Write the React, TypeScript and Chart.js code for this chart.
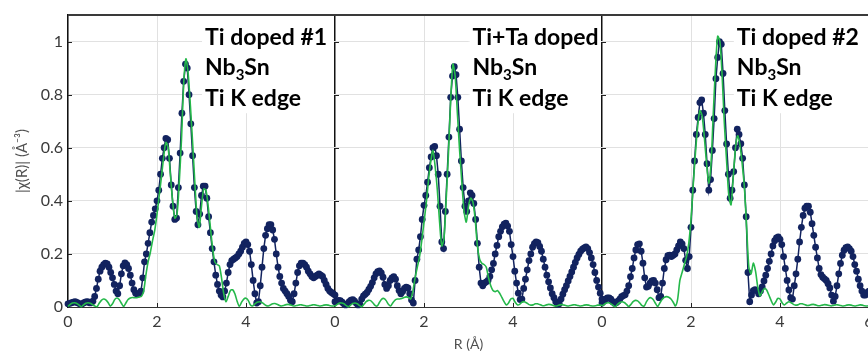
import React, { useEffect, useRef } from 'react';
import { Chart, registerables } from 'chart.js';

Chart.register(...registerables);

// ---- axes / layout values ----
const R_MAX = 6; // each panel spans R = 0..6 Å
const DATA_STEP = 0.04;
const FIT_STEP = 0.05;
const X_TICK_STEP = 2;
const Y_MAX = 1.1;
const Y_TICK_STEP = 0.2;

// ---- panel labels ----
const PANEL_NAMES = ['Ti doped #1', 'Ti+Ta doped', 'Ti doped #2'];
const LABEL_X = [3.08, 3.09, 3.03];
const LABEL_BASELINES = [0.987, 0.874, 0.758];
const LABEL_BOX_BOTTOM = 0.73;

// ---- Panel 1: Ti doped #1 ----
const data1 = [
  0.012, 0.014, 0.016, 0.018, 0.02, 0.017, 0.014, 0.011, 0.012, 0.016,
  0.019, 0.02, 0.016, 0.016, 0.022, 0.04, 0.07, 0.105, 0.135, 0.15,
  0.16, 0.165, 0.162, 0.15, 0.13, 0.11, 0.085, 0.06, 0.05, 0.08,
  0.125, 0.155, 0.166, 0.16, 0.145, 0.12, 0.09, 0.065, 0.052, 0.048,
  0.05, 0.06, 0.11, 0.17, 0.2, 0.24, 0.28, 0.32, 0.345, 0.37,
  0.4, 0.44, 0.5, 0.56, 0.6, 0.635, 0.63, 0.56, 0.46, 0.38,
  0.33, 0.335, 0.45, 0.58, 0.73, 0.85, 0.915, 0.9, 0.8, 0.69,
  0.57, 0.45, 0.36, 0.31, 0.35, 0.42, 0.455, 0.455, 0.41, 0.34,
  0.28, 0.22, 0.17, 0.12, 0.085, 0.06, 0.045, 0.038, 0.06, 0.09,
  0.13, 0.16, 0.175, 0.18, 0.185, 0.19, 0.2, 0.21, 0.225, 0.24,
  0.245, 0.235, 0.21, 0.16, 0.1, 0.05, 0.015, 0.02, 0.08, 0.15,
  0.22, 0.27, 0.295, 0.31, 0.31, 0.29, 0.255, 0.2, 0.15, 0.115,
  0.09, 0.07, 0.06, 0.05, 0.04, 0.025, 0.02, 0.05, 0.09, 0.13,
  0.155, 0.165, 0.165, 0.16, 0.15, 0.135, 0.125, 0.115, 0.11, 0.115,
  0.12, 0.125, 0.12, 0.115, 0.1, 0.085, 0.07, 0.06, 0.055, 0.05,
  0.045,
];
const fit1 = [
  0.002, 0.01, 0.015, 0.016, 0.013, 0.007, 0.001, 0.008, 0.014, 0.016,
  0.014, 0.009, 0.004, 0.001, 0.014, 0.025, 0.03, 0.027, 0.017, 0.003,
  0.012, 0.028, 0.034, 0.028, 0.014, 0.002, 0.015, 0.028, 0.034, 0.036,
  0.035, 0.035, 0.038, 0.04, 0.06, 0.12, 0.17, 0.205, 0.25, 0.29,
  0.35, 0.42, 0.49, 0.565, 0.62, 0.6, 0.5, 0.4, 0.335, 0.35,
  0.47, 0.63, 0.84, 0.935, 0.88, 0.76, 0.62, 0.47, 0.34, 0.3,
  0.38, 0.445, 0.44, 0.38, 0.3, 0.22, 0.17, 0.16, 0.155, 0.11,
  0.05, 0.02, 0.04, 0.062, 0.065, 0.05, 0.022, 0.002, 0.018, 0.03,
  0.033, 0.025, 0.008, 0.004, 0.012, 0.018, 0.02, 0.018, 0.012, 0.006,
  0.004, 0.008, 0.012, 0.013, 0.01, 0.006, 0.004, 0.006, 0.009, 0.01,
  0.008, 0.005, 0.004, 0.006, 0.008, 0.008, 0.006, 0.004, 0.004, 0.006,
  0.008, 0.008, 0.006, 0.004, 0.005, 0.007, 0.008, 0.007, 0.005, 0.004,
  0.005,
];

// ---- Panel 2: Ti+Ta doped ----
const data2 = [
  0.02, 0.022, 0.025, 0.024, 0.018, 0.012, 0.008, 0.012, 0.02, 0.026,
  0.028, 0.022, 0.014, 0.008, 0.01, 0.03, 0.042, 0.048, 0.055, 0.066,
  0.078, 0.092, 0.11, 0.125, 0.133, 0.136, 0.128, 0.112, 0.085, 0.07,
  0.08, 0.1, 0.11, 0.114, 0.105, 0.08, 0.062, 0.05, 0.058, 0.07,
  0.075, 0.072, 0.05, 0.026, 0.015, 0.1, 0.18, 0.215, 0.265, 0.33,
  0.383, 0.42, 0.47, 0.525, 0.565, 0.6, 0.605, 0.57, 0.5, 0.38,
  0.245, 0.22, 0.36, 0.5, 0.64, 0.79, 0.87, 0.905, 0.875, 0.79,
  0.67, 0.55, 0.45, 0.38, 0.36, 0.4, 0.43, 0.42, 0.39, 0.33,
  0.24, 0.15, 0.09, 0.08, 0.09, 0.095, 0.1, 0.115, 0.14, 0.164,
  0.2, 0.232, 0.265, 0.285, 0.302, 0.312, 0.316, 0.305, 0.285, 0.235,
  0.19, 0.135, 0.09, 0.052, 0.028, 0.03, 0.07, 0.105, 0.14, 0.175,
  0.2, 0.225, 0.239, 0.245, 0.242, 0.228, 0.21, 0.18, 0.15, 0.12,
  0.095, 0.072, 0.05, 0.035, 0.02, 0.01, 0.012, 0.03, 0.048, 0.065,
  0.08, 0.098, 0.115, 0.132, 0.15, 0.168, 0.185, 0.198, 0.21, 0.218,
  0.223, 0.226, 0.22, 0.205, 0.185, 0.16, 0.13, 0.1, 0.075, 0.052,
  0.03,
];
const fit2 = [
  0.003, 0.01, 0.015, 0.015, 0.012, 0.006, 0.001, 0.007, 0.013, 0.015,
  0.012, 0.006, 0.001, 0.01, 0.02, 0.025, 0.024, 0.016, 0.006, 0.004,
  0.018, 0.03, 0.032, 0.024, 0.01, 0.004, 0.016, 0.026, 0.03, 0.03,
  0.032, 0.036, 0.038, 0.036, 0.03, 0.06, 0.11, 0.15, 0.19, 0.25,
  0.32, 0.39, 0.476, 0.545, 0.59, 0.53, 0.44, 0.32, 0.23, 0.26,
  0.41, 0.58, 0.78, 0.915, 0.87, 0.73, 0.59, 0.47, 0.36, 0.32,
  0.38, 0.41, 0.395, 0.33, 0.23, 0.18, 0.165, 0.16, 0.15, 0.11,
  0.08, 0.062, 0.058, 0.062, 0.052, 0.036, 0.02, 0.008, 0.015, 0.03,
  0.032, 0.018, 0.008, 0.01, 0.018, 0.02, 0.016, 0.01, 0.007, 0.008,
  0.012, 0.012, 0.009, 0.006, 0.005, 0.008, 0.01, 0.009, 0.006, 0.004,
  0.005, 0.008, 0.009, 0.007, 0.005, 0.004, 0.006, 0.008, 0.008, 0.006,
  0.004, 0.005, 0.007, 0.008, 0.007, 0.005, 0.004, 0.005, 0.007, 0.007,
  0.006,
];

// ---- Panel 3: Ti doped #2 ----
const data3 = [
  0.015, 0.022, 0.03, 0.034, 0.034, 0.03, 0.02, 0.014, 0.016, 0.022,
  0.03, 0.039, 0.043, 0.046, 0.06, 0.08, 0.114, 0.145, 0.185, 0.215,
  0.235, 0.238, 0.21, 0.165, 0.11, 0.075, 0.078, 0.09, 0.098, 0.1,
  0.09, 0.065, 0.035, 0.04, 0.09, 0.145, 0.178, 0.193, 0.195, 0.19,
  0.195, 0.2, 0.215, 0.23, 0.245, 0.238, 0.22, 0.176, 0.145, 0.19,
  0.3, 0.44, 0.55, 0.65, 0.714, 0.77, 0.78, 0.73, 0.65, 0.54,
  0.44, 0.48, 0.59, 0.71, 0.86, 0.94, 1.0, 0.99, 0.88, 0.74,
  0.614, 0.5, 0.41, 0.44, 0.51, 0.6, 0.67, 0.65, 0.615, 0.56,
  0.46, 0.34, 0.13, 0.02, 0.045, 0.062, 0.065, 0.062, 0.05, 0.06,
  0.076, 0.098, 0.12, 0.145, 0.172, 0.2, 0.23, 0.25, 0.26, 0.264,
  0.255, 0.235, 0.19, 0.145, 0.1, 0.064, 0.035, 0.03, 0.08, 0.125,
  0.18, 0.245, 0.3, 0.345, 0.372, 0.38, 0.38, 0.357, 0.314, 0.27,
  0.225, 0.185, 0.145, 0.122, 0.112, 0.106, 0.1, 0.088, 0.072, 0.045,
  0.022, 0.04, 0.08, 0.125, 0.164, 0.195, 0.214, 0.224, 0.226, 0.22,
  0.21, 0.19, 0.16, 0.135, 0.105, 0.08, 0.06, 0.045, 0.045, 0.055,
  0.06,
];
const fit3 = [
  0.003, 0.01, 0.015, 0.016, 0.012, 0.006, 0.001, 0.01, 0.017, 0.02,
  0.017, 0.01, 0.002, 0.01, 0.02, 0.025, 0.023, 0.015, 0.005, 0.004,
  0.02, 0.032, 0.035, 0.028, 0.014, 0.002, 0.015, 0.028, 0.036, 0.039,
  0.037, 0.03, 0.018, 0.004, 0.03, 0.1, 0.13, 0.16, 0.19, 0.24,
  0.33, 0.46, 0.58, 0.68, 0.74, 0.72, 0.64, 0.54, 0.465, 0.54,
  0.726, 0.9, 1.02, 1.0, 0.87, 0.69, 0.55, 0.42, 0.385, 0.49,
  0.6, 0.645, 0.61, 0.54, 0.45, 0.3, 0.15, 0.125, 0.165, 0.135,
  0.076, 0.042, 0.058, 0.07, 0.064, 0.045, 0.025, 0.008, 0.018, 0.032,
  0.03, 0.015, 0.008, 0.015, 0.02, 0.016, 0.01, 0.007, 0.008, 0.012,
  0.012, 0.009, 0.006, 0.006, 0.009, 0.01, 0.008, 0.005, 0.005, 0.007,
  0.009, 0.008, 0.006, 0.004, 0.006, 0.008, 0.008, 0.006, 0.004, 0.005,
  0.007, 0.008, 0.007, 0.005, 0.004, 0.006, 0.008, 0.007, 0.005, 0.004,
  0.005,
];

const DATA_SERIES = [data1, data2, data3];
const FIT_SERIES = [fit1, fit2, fit3];

const NAVY = '#12235f';
const GREEN = '#25b84a';
const GRID = '#e1e1e1';
const TICK_COLOR = '#3a3a3a';
const TITLE_COLOR = '#505050';
const FONT = 'Lato, "Open Sans", sans-serif';

const toPoints = (vals: number[], step: number, panel: number) =>
  vals.map((v, i) => ({ x: panel * R_MAX + i * step, y: v }));

const overlayPlugin = {
  id: 'panelOverlay',
  beforeDatasetsDraw(chart: any) {
    const { ctx, chartArea, scales } = chart;
    const x = scales.x;
    const y = scales.y;
    ctx.save();
    PANEL_NAMES.forEach((name: string, p: number) => {
      const off = p * R_MAX;
      const tx = x.getPixelForValue(off + LABEL_X[p]);
      const right = x.getPixelForValue(off + R_MAX) - 1;
      const top = chartArea.top + 1;
      const bottom = y.getPixelForValue(LABEL_BOX_BOTTOM);
      ctx.fillStyle = '#ffffff';
      ctx.fillRect(tx - 3, top, right - (tx - 3), bottom - top);

      ctx.fillStyle = '#000000';
      ctx.textAlign = 'left';
      ctx.textBaseline = 'alphabetic';
      ctx.font = `bold 23px ${FONT}`;
      ctx.fillText(name, tx, y.getPixelForValue(LABEL_BASELINES[0]));
      // Nb3Sn with subscript
      const b2 = y.getPixelForValue(LABEL_BASELINES[1]);
      let cx = tx;
      ctx.fillText('Nb', cx, b2);
      cx += ctx.measureText('Nb').width;
      ctx.font = `bold 15px ${FONT}`;
      ctx.fillText('3', cx, b2 + 5);
      cx += ctx.measureText('3').width;
      ctx.font = `bold 23px ${FONT}`;
      ctx.fillText('Sn', cx, b2);
      ctx.fillText('Ti K edge', tx, y.getPixelForValue(LABEL_BASELINES[2]));
    });
    ctx.restore();
  },
  afterDraw(chart: any) {
    const { ctx, chartArea, scales } = chart;
    const x = scales.x;
    const y = scales.y;
    ctx.save();
    ctx.strokeStyle = '#222';
    ctx.lineWidth = 1;
    for (let p = 0; p < PANEL_NAMES.length; p++) {
      const px0 = x.getPixelForValue(p * R_MAX);
      for (let v = Y_TICK_STEP; v <= 1.0001; v += Y_TICK_STEP) {
        const py = Math.round(y.getPixelForValue(v)) + 0.5;
        ctx.beginPath();
        ctx.moveTo(px0, py);
        ctx.lineTo(px0 + 4, py);
        ctx.stroke();
      }
      for (let r = X_TICK_STEP; r < R_MAX; r += X_TICK_STEP) {
        const px = Math.round(x.getPixelForValue(p * R_MAX + r)) + 0.5;
        ctx.beginPath();
        ctx.moveTo(px, chartArea.bottom);
        ctx.lineTo(px, chartArea.bottom - 4);
        ctx.stroke();
      }
    }
    // top frame line
    ctx.strokeStyle = '#3a3a3a';
    ctx.lineWidth = 2;
    ctx.beginPath();
    ctx.moveTo(chartArea.left, chartArea.top);
    ctx.lineTo(chartArea.right, chartArea.top);
    ctx.stroke();
    ctx.restore();
  },
};

export default function App() {
  const canvasRef = useRef<HTMLCanvasElement | null>(null);

  useEffect(() => {
    if (!canvasRef.current) return;
    Chart.defaults.font.family = FONT;

    const datasets: any[] = [];
    DATA_SERIES.forEach((vals, p) => {
      datasets.push({
        label: `${PANEL_NAMES[p]} data`,
        data: toPoints(vals, DATA_STEP, p),
        borderColor: NAVY,
        backgroundColor: NAVY,
        borderWidth: 1.5,
        pointRadius: 3.4,
        pointBorderWidth: 0,
        pointBackgroundColor: NAVY,
        tension: 0,
        order: 2,
        clip: 6,
      });
    });
    FIT_SERIES.forEach((vals, p) => {
      datasets.push({
        label: `${PANEL_NAMES[p]} fit`,
        data: toPoints(vals, FIT_STEP, p),
        borderColor: GREEN,
        backgroundColor: GREEN,
        borderWidth: 1.6,
        pointRadius: 0,
        tension: 0.25,
        order: 1,
        clip: 6,
      });
    });

    const chart = new Chart(canvasRef.current, {
      type: 'line',
      data: { datasets },
      plugins: [overlayPlugin],
      options: {
        animation: false,
        responsive: false,
        events: [],
        layout: { padding: { left: 0, right: 11, top: 15, bottom: 0 } },
        plugins: { legend: { display: false }, tooltip: { enabled: false } },
        scales: {
          x: {
            type: 'linear',
            min: 0,
            max: R_MAX * PANEL_NAMES.length,
            afterFit: (s: any) => {
              s.height = 46;
              s.paddingLeft = 0;
              s.paddingRight = 0;
            },
            ticks: {
              stepSize: X_TICK_STEP,
              autoSkip: false,
              maxRotation: 0,
              padding: 5,
              color: TICK_COLOR,
              font: { size: 16 },
              callback: (v: any) => {
                const n = Number(v);
                const total = R_MAX * PANEL_NAMES.length;
                return String(n >= total - 1e-9 ? R_MAX : Math.round(n % R_MAX));
              },
            },
            grid: {
              drawTicks: false,
              color: (c: any) => {
                const val = c.tick ? c.tick.value : 0;
                return val > 0 && Math.abs(val % R_MAX) < 1e-6 ? '#111' : GRID;
              },
              lineWidth: (c: any) => {
                const val = c.tick ? c.tick.value : 0;
                return val > 0 && Math.abs(val % R_MAX) < 1e-6 ? 1.5 : 1;
              },
            },
            border: { display: true, color: '#333', width: 1 },
            title: {
              display: true,
              text: 'R (Å)',
              color: TITLE_COLOR,
              font: { size: 14 },
              padding: { top: 0, bottom: 0 },
            },
          },
          y: {
            min: 0,
            max: Y_MAX,
            afterBuildTicks: (s: any) => {
              s.ticks = s.ticks.filter((t: any) => t.value <= 1.0001);
            },
            afterFit: (s: any) => {
              s.width = 68;
            },
            ticks: {
              stepSize: Y_TICK_STEP,
              padding: 5,
              color: TICK_COLOR,
              font: { size: 16 },
              callback: (v: any) => String(Math.round(Number(v) * 10) / 10),
            },
            grid: { drawTicks: false, color: GRID, lineWidth: 1 },
            border: { display: true, color: '#111', width: 1.5 },
            title: {
              display: true,
              text: '|χ(R)| (Å⁻³)',
              color: TITLE_COLOR,
              font: { size: 15 },
              padding: { top: 13, bottom: 0 },
            },
          },
        },
      },
    });
    return () => chart.destroy();
  }, []);

  return (
    <div
      style={{
        position: 'fixed',
        left: 0,
        top: 0,
        width: 868,
        height: 353,
        overflow: 'hidden',
        background: '#ffffff',
      }}
    >
      <canvas ref={canvasRef} width={880} height={353} style={{ display: 'block' }} />
    </div>
  );
}
